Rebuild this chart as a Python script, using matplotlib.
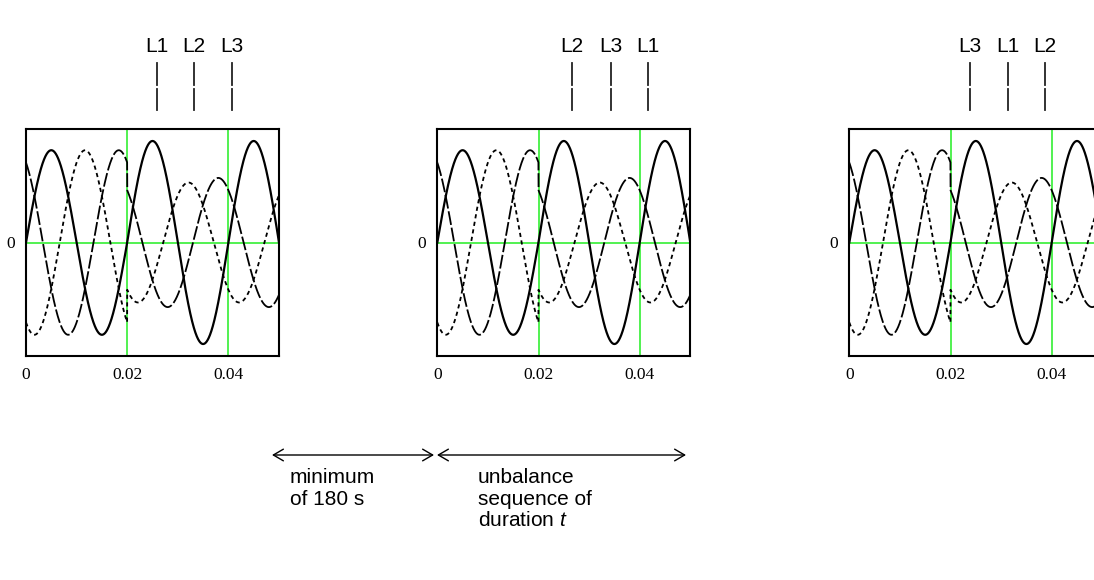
import numpy as np
import matplotlib
matplotlib.use("Agg")
import matplotlib.pyplot as plt
from matplotlib.lines import Line2D
from matplotlib.patches import FancyArrowPatch

# ---------------- data ----------------
freq_hz = 50.0
t_switch = 0.02          # start of the unbalance
t_end = 0.05
# three phase waveforms: [solid, short-dashed, long-dashed]
balanced_amp = [1.00, 1.00, 1.00]
balanced_phase_deg = [0.0, -120.0, 120.0]
unbalanced_amp = [1.10, 0.65, 0.70]
unbalanced_phase_deg = [0.0, -128.0, 126.0]

xtick_vals = [0.0, 0.02, 0.04]
xtick_labels = ["0", "0.02", "0.04"]
ytick_vals = [0.0]
ytick_labels = ["0"]
green_x = [0.02, 0.04]
green_y = [0.0]

panel_phase_labels = [["L1", "L2", "L3"], ["L2", "L3", "L1"], ["L3", "L1", "L2"]]
arrow_texts = ["minimum\nof 180 s", "unbalance\nsequence of\nduration $t$"]
# ------------------------------------------------------------

W, H = 1094, 580
plt.rcParams["lines.scale_dashes"] = False
plt.rcParams["mathtext.fontset"] = "custom"
plt.rcParams["mathtext.rm"] = "Liberation Sans"
plt.rcParams["mathtext.it"] = "Liberation Sans:italic"

fig = plt.figure(figsize=(W / 100, H / 100), dpi=100)
fig.patch.set_facecolor("white")


def fx(px):
    return px / W


def fy(py):
    return 1 - py / H


t = np.linspace(0, t_end, 3001)
w = 2 * np.pi * freq_hz
curves = []
for i in range(3):
    yb = balanced_amp[i] * np.sin(w * t + np.deg2rad(balanced_phase_deg[i]))
    yu = unbalanced_amp[i] * np.sin(w * t + np.deg2rad(unbalanced_phase_deg[i]))
    curves.append(np.where(t < t_switch, yb, yu))

styles = [
    dict(color="black", lw=1.6, ls="-"),
    dict(color="black", lw=1.3, ls=(0, (3.0, 2.5))),
    dict(color="black", lw=1.3, ls=(0, (10.0, 2.0))),
]

panel_left_px = [26, 437.3, 849.3]
ax_w_px = 253
ax_top_px, ax_bot_px = 129, 356
bar_x_px = [[156.7, 194.3, 232.3], [572.3, 610.7, 648.0], [969.7, 1007.7, 1045.3]]

for p, left in enumerate(panel_left_px):
    ax = fig.add_axes([fx(left), fy(ax_bot_px), ax_w_px / W, (ax_bot_px - ax_top_px) / H])
    for gx in green_x:
        ax.axvline(gx, color="#22ee22", lw=1.1, zorder=1)
    for gy in green_y:
        ax.axhline(gy, color="#22ee22", lw=1.1, zorder=1)
    for i in range(3):
        ax.plot(t, curves[i], zorder=2, **styles[i])
    ax.set_xlim(0, t_end)
    ax.set_ylim(-1.23, 1.23)
    ax.set_xticks(xtick_vals)
    ax.set_xticklabels(xtick_labels, family="Liberation Serif", fontsize=12.5)
    ax.set_yticks(ytick_vals)
    ax.set_yticklabels(ytick_labels, family="Liberation Serif", fontsize=12.5)
    ax.tick_params(length=0, pad=8)
    for s in ax.spines.values():
        s.set_linewidth(1.5)
        s.set_color("black")

    for j, lab in enumerate(panel_phase_labels[p]):
        bx = bar_x_px[p][j]
        fig.text(fx(bx), fy(47), lab, ha="center", va="center",
                 family="Liberation Sans", fontsize=15)
        for (y0, y1) in [(63, 85), (89, 110)]:
            fig.add_artist(Line2D([fx(bx), fx(bx)], [fy(y0), fy(y1)],
                                  color="#222222", lw=1.3, transform=fig.transFigure))

# arrows
arrow_y = 455
for (x0, x1) in [(272, 434), (437, 686)]:
    fig.add_artist(FancyArrowPatch((fx(x0), fy(arrow_y)), (fx(x1), fy(arrow_y)),
                                   arrowstyle="<->,head_length=0.6,head_width=0.35",
                                   mutation_scale=12, lw=1.0, color="black",
                                   transform=fig.transFigure, shrinkA=0, shrinkB=0))

fig.text(fx(290), fy(468), arrow_texts[0], ha="left", va="top",
         family="Liberation Sans", fontsize=15, linespacing=1.18)
fig.text(fx(478), fy(468), arrow_texts[1], ha="left", va="top",
         family="Liberation Sans", fontsize=15, linespacing=1.18)

fig.savefig("out.png", dpi=100, facecolor="white")
